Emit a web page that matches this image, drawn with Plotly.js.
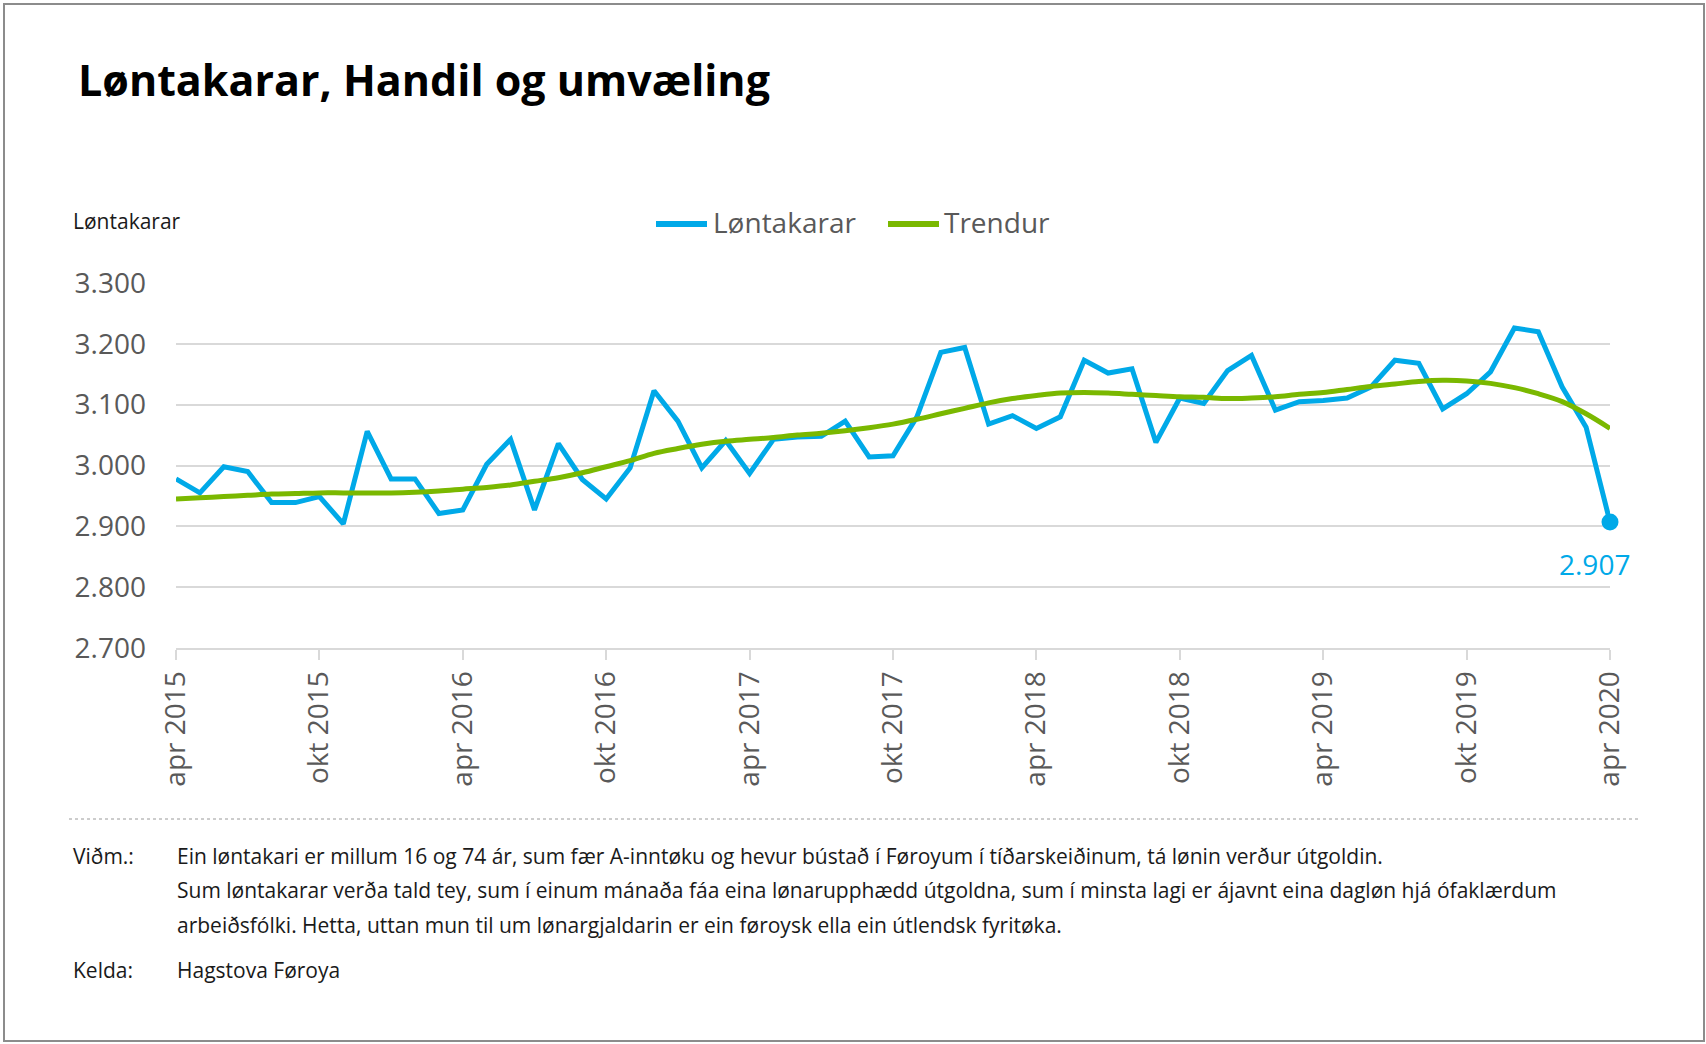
<!DOCTYPE html>
<html>
<head>
<meta charset="utf-8">
<script src="https://cdn.plot.ly/plotly-3.0.1.min.js"></script>
<style>
  html, body { margin: 0; padding: 0; background: #fff; }
  #frame { position: absolute; left: 3px; top: 3px; width: 1698px; height: 1035px; border: 2px solid #8c8c8c; box-sizing: content-box; pointer-events: none; z-index: 5; }
  #chart { position: absolute; left: 0; top: 0; width: 1706px; height: 1044px; }
</style>
</head>
<body>
<div id="chart"></div>
<div id="frame"></div>
<script>
// ---- Data ----
const months = [
  "apr 2015","mai 2015","jun 2015","jul 2015","aug 2015","sep 2015","okt 2015","nov 2015","des 2015",
  "jan 2016","feb 2016","mar 2016","apr 2016","mai 2016","jun 2016","jul 2016","aug 2016","sep 2016","okt 2016","nov 2016","des 2016",
  "jan 2017","feb 2017","mar 2017","apr 2017","mai 2017","jun 2017","jul 2017","aug 2017","sep 2017","okt 2017","nov 2017","des 2017",
  "jan 2018","feb 2018","mar 2018","apr 2018","mai 2018","jun 2018","jul 2018","aug 2018","sep 2018","okt 2018","nov 2018","des 2018",
  "jan 2019","feb 2019","mar 2019","apr 2019","mai 2019","jun 2019","jul 2019","aug 2019","sep 2019","okt 2019","nov 2019","des 2019",
  "jan 2020","feb 2020","mar 2020","apr 2020"
];
const lontakarar = [
  2978, 2955, 2998, 2990, 2939, 2939, 2949, 2904, 3056, 2978, 2978, 2921,
  2927, 3002, 3043, 2927, 3036, 2977, 2945, 2996, 3123, 3073, 2996, 3041,
  2987, 3043, 3047, 3048, 3073, 3014, 3016, 3080, 3186, 3194, 3068, 3082,
  3061, 3080, 3173, 3152, 3159, 3038, 3111, 3102, 3156, 3181, 3091, 3105,
  3107, 3111, 3129, 3173, 3168, 3093, 3118, 3154, 3226, 3220, 3129, 3063,
  2907
];
const trendur = [
  2945, 2947, 2949, 2951, 2953, 2954, 2955, 2955, 2955, 2955, 2956, 2958,
  2961, 2964, 2968, 2974, 2980, 2988, 2998, 3008, 3020, 3028, 3035, 3040,
  3043, 3046, 3050, 3053, 3057, 3062, 3068, 3076, 3085, 3094, 3103, 3110,
  3115, 3119, 3120, 3119, 3117, 3115, 3113, 3112, 3110, 3111, 3113, 3117,
  3120, 3125, 3130, 3134, 3138, 3140, 3139, 3135, 3128, 3118, 3105, 3085,
  3061
];
const tickLabels = ["apr 2015","okt 2015","apr 2016","okt 2016","apr 2017","okt 2017","apr 2018","okt 2018","apr 2019","okt 2019","apr 2020"];
const seriesNames = ["Løntakarar", "Trendur"];
const titleText = "Løntakarar, Handil og umvæling";
const yTitle = "Løntakarar";
const noteLines = [
  "Ein løntakari er millum 16 og 74 ár, sum fær A-inntøku og hevur bústað í Føroyum í tíðarskeiðinum, tá lønin verður útgoldin.",
  "Sum løntakarar verða tald tey, sum í einum mánaða fáa eina lønarupphædd útgoldna, sum í minsta lagi er ájavnt eina dagløn hjá ófaklærdum",
  "arbeiðsfólki. Hetta, uttan mun til um lønargjaldarin er ein føroysk ella ein útlendsk fyritøka."
];
const sourceText = "Hagstova Føroya";

// ---- Layout helpers (pixel -> paper) ----
const W = 1706, H = 1044;
const mL = 176, mR = 96, mT = 283, mB = 396;
const pw = W - mL - mR, ph = H - mT - mB;
const px = x => (x - mL) / pw;
const py = y => (H - mB - y) / ph;

const BLUE = "#00a9e8", GREEN = "#7ab800", GRID = "#d9d9d9", GREY = "#595959";
const FONT = "Open Sans, Noto Sans, sans-serif";

const last = lontakarar.length - 1;
const fmt = v => v.toLocaleString("de-DE");

const traces = [
  { x: months, y: lontakarar, type: "scatter", mode: "lines", name: seriesNames[0],
    line: { color: BLUE, width: 5 }, hoverinfo: "x+y", showlegend: false },
  { x: months, y: trendur, type: "scatter", mode: "lines", name: seriesNames[1],
    line: { color: GREEN, width: 5, shape: "spline" }, hoverinfo: "x+y", showlegend: false },
  { x: [months[last]], y: [lontakarar[last]], type: "scatter", mode: "markers",
    marker: { color: BLUE, size: 17 }, showlegend: false, hoverinfo: "skip", cliponaxis: false }
];

const noteFont = { family: FONT, size: 21, color: "#1a1a1a" };
const legendFont = { family: FONT, size: 28, color: GREY };
const annotations = [
  { xref: "paper", yref: "paper", x: px(71), y: py(221), xanchor: "left", yanchor: "middle",
    text: yTitle, showarrow: false, font: { family: FONT, size: 21, color: "#1a1a1a" } },
  { x: months[last], y: lontakarar[last], xref: "x", yref: "y", text: fmt(lontakarar[last]),
    showarrow: false, xshift: -16, yshift: -42, font: { family: FONT, size: 28, color: BLUE } },
  // legend labels
  { xref: "paper", yref: "paper", x: px(711), y: py(222), xanchor: "left", yanchor: "middle",
    text: seriesNames[0], showarrow: false, font: legendFont },
  { xref: "paper", yref: "paper", x: px(942), y: py(222), xanchor: "left", yanchor: "middle",
    text: seriesNames[1], showarrow: false, font: legendFont },
  { xref: "paper", yref: "paper", x: px(71), y: py(856), xanchor: "left", yanchor: "middle",
    text: "Viðm.:", showarrow: false, font: noteFont },
  { xref: "paper", yref: "paper", x: px(71), y: py(970), xanchor: "left", yanchor: "middle",
    text: "Kelda:", showarrow: false, font: noteFont },
  { xref: "paper", yref: "paper", x: px(175), y: py(970), xanchor: "left", yanchor: "middle",
    text: sourceText, showarrow: false, font: noteFont }
];
const noteY = [856, 890, 925];
noteLines.forEach((t, i) => annotations.push({
  xref: "paper", yref: "paper", x: px(175), y: py(noteY[i]), xanchor: "left", yanchor: "middle",
  text: t, showarrow: false, font: noteFont
}));

const layout = {
  width: W, height: H,
  margin: { l: mL, r: mR, t: mT, b: mB, pad: 0 },
  paper_bgcolor: "rgba(0,0,0,0)", plot_bgcolor: "#fff",
  separators: ",.",
  font: { family: FONT, color: GREY },
  title: { text: "<b>" + titleText + "</b>", xref: "container", yref: "container",
    x: 78 / W, xanchor: "left", y: 1 - 81 / H, yanchor: "middle",
    font: { family: FONT, size: 43, color: "#000" } },
  showlegend: false,
  xaxis: { type: "category", range: [0, months.length - 1], tickmode: "array",
    tickvals: tickLabels, ticktext: tickLabels, tickangle: -90,
    ticks: "outside", ticklen: 10, tickwidth: 2, tickcolor: GRID,
    showline: true, linecolor: GRID, linewidth: 2, showgrid: false, zeroline: false,
    tickfont: { family: FONT, size: 28, color: GREY }, fixedrange: true },
  yaxis: { range: [2700, 3300], dtick: 100, tick0: 2700, tickformat: ",d",
    showgrid: true, gridcolor: GRID, gridwidth: 2, zeroline: false, showline: false,
    ticks: "", ticklabelstandoff: 29,
    tickfont: { family: FONT, size: 28, color: GREY }, fixedrange: true },
  shapes: [
    { type: "line", xref: "paper", yref: "paper", x0: px(69), x1: px(1638), y0: py(819), y1: py(819),
      line: { color: "#9a9a9a", width: 1, dash: "dot" } },
    // legend symbols
    { type: "line", xref: "paper", yref: "paper", x0: px(656), x1: px(707), y0: py(224), y1: py(224),
      line: { color: BLUE, width: 6 } },
    { type: "line", xref: "paper", yref: "paper", x0: px(888), x1: px(939), y0: py(224), y1: py(224),
      line: { color: GREEN, width: 6 } }
  ],
  annotations: annotations
};

Plotly.newPlot("chart", traces, layout, { displayModeBar: false, staticPlot: true });
</script>
</body>
</html>
